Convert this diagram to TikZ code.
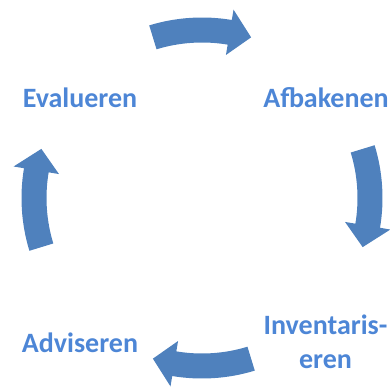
\documentclass[tikz,border=0pt]{standalone}
\usepackage{fontspec}
\setmainfont{Carlito}
\definecolor{arrowblue}{RGB}{79,129,189}
\definecolor{textblue}{RGB}{77,134,214}
\tikzset{
  cyclearrow/.style={fill=arrowblue, draw=none},
  steplabel/.style={text=textblue, font=\fontsize{28}{33.5}\selectfont\bfseries, inner sep=0pt, anchor=base, align=center}
}
% #1 tail angle, #2 tip angle (clockwise, #1 > #2)
\newcommand{\cyclearc}[2]{%
  \pgfmathsetmacro{\hb}{#2+7.5}%
  \fill[cyclearrow] (#1:180.5) arc[start angle=#1, end angle=\hb, radius=180.5]
    -- (\hb:191) -- (#2:168) -- (\hb:145) -- (\hb:155.5)
    arc[start angle=\hb, end angle=#1, radius=155.5] -- cycle;}
\begin{document}
\begin{tikzpicture}[x=1pt,y=1pt]
\useasboundingbox (0,0) rectangle (390,389);
\begin{scope}[shift={(202,191)}]
  \cyclearc{107}{73}
  \cyclearc{17}{-17}
  \cyclearc{-73}{-107}
  \cyclearc{197}{163}
\end{scope}
\node[steplabel] (eval) at (80,282) {Evalueren};
\node[steplabel] (afb) at (326,282) {Afbakenen};
\node[steplabel] (inv) at (325.5,21) {Inventaris-\\eren};
\node[steplabel] (adv) at (80,37) {Adviseren};
\end{tikzpicture}
\end{document}
